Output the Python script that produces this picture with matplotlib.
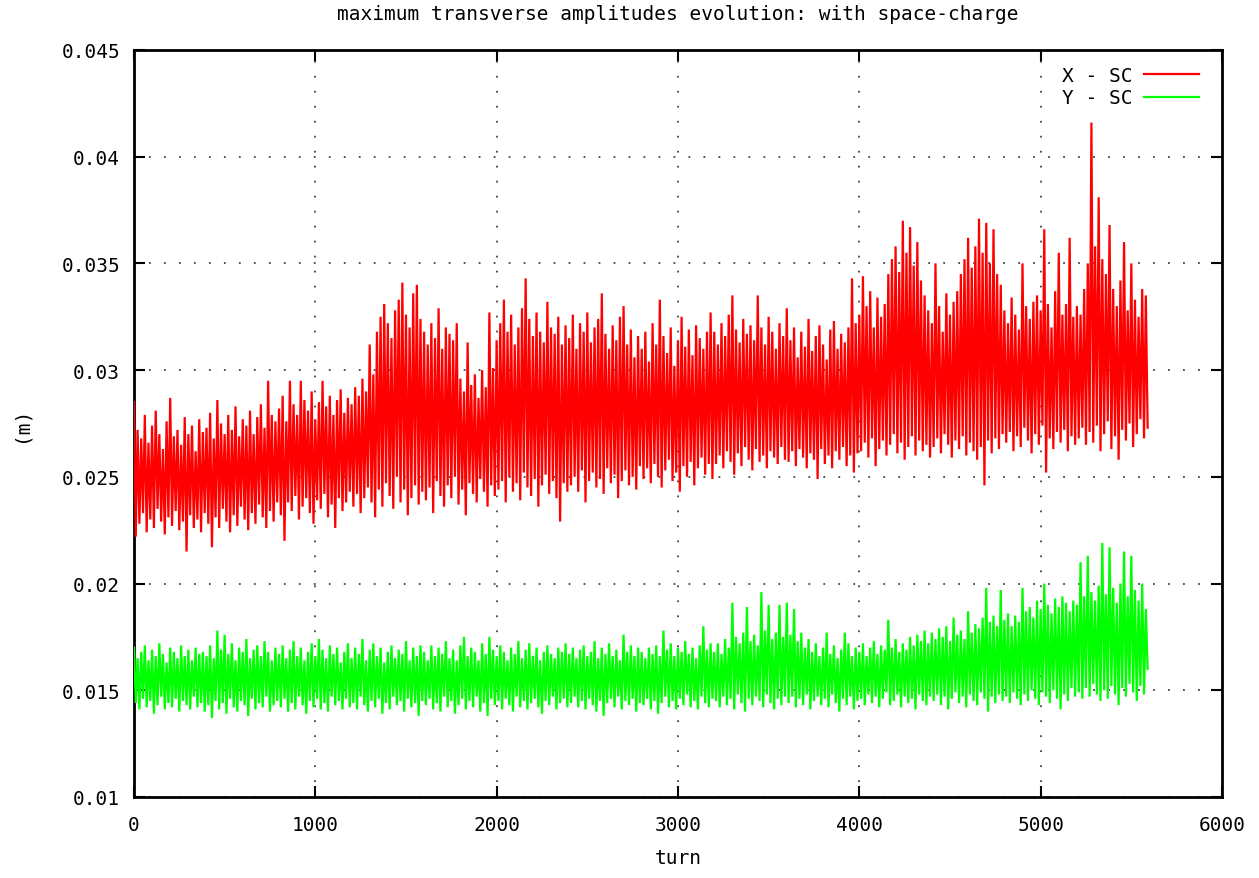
# coding=utf-8
'''
maximum transverse amplitudes per turn, X and Y, with space-charge
'''

import numpy as np
import matplotlib
matplotlib.use("Agg")
import matplotlib.pyplot as plt


# amplitudes in units of 0.1 mm
# x_hi / y_hi : peak value every 20 turns (turn 0, 20, 40 ...)
# x_lo / y_lo : dip value in between (turn 10, 30, 50 ...)
x_hi = [
    285, 272, 268, 279, 266, 274, 281, 270, 263, 276, 287, 269, 272, 265, 278, 270, 274, 262, 277, 271,
    273, 280, 268, 286, 275, 270, 279, 272, 283, 269, 277, 274, 281, 270, 278, 284, 273, 295, 279, 276,
    282, 288, 276, 295, 284, 279, 295, 286, 281, 290, 277, 285, 295, 283, 288, 279, 286, 291, 280, 287,
    284, 292, 288, 296, 290, 312, 298, 318, 325, 331, 322, 315, 328, 333, 341, 326, 320, 336, 340, 324,
    318, 312, 322, 315, 329, 310, 320, 317, 314, 322, 296, 290, 313, 293, 298, 287, 300, 292, 327, 301,
    314, 322, 333, 318, 326, 312, 320, 329, 343, 324, 316, 327, 318, 313, 332, 320, 317, 325, 312, 321,
    315, 326, 310, 322, 318, 327, 313, 320, 324, 336, 317, 310, 321, 314, 325, 330, 312, 319, 306, 316,
    310, 318, 304, 322, 312, 333, 316, 308, 320, 302, 314, 325, 311, 319, 307, 321, 315, 310, 318, 327,
    318, 312, 322, 316, 326, 335, 319, 313, 324, 317, 321, 314, 335, 320, 312, 325, 318, 310, 322, 316,
    329, 314, 320, 306, 318, 311, 324, 309, 316, 321, 312, 305, 319, 323, 310, 317, 313, 320, 343, 322,
    326, 344, 330, 337, 320, 334, 325, 331, 345, 352, 358, 346, 370, 355, 367, 349, 360, 342, 335, 328,
    322, 350, 330, 318, 336, 326, 332, 337, 345, 352, 362, 348, 358, 371, 355, 369, 350, 366, 345, 340,
    328, 322, 334, 326, 319, 350, 330, 324, 332, 335, 328, 366, 331, 320, 337, 355, 326, 331, 362, 325,
    330, 326, 338, 350, 416, 358, 381, 352, 345, 368, 338, 330, 342, 360, 328, 350, 333, 325, 338, 335,
]
x_lo = [
    222, 228, 233, 224, 230, 226, 235, 229, 223, 231, 227, 234, 225, 229, 215, 232, 226, 230, 224, 233,
    228, 217, 231, 226, 235, 229, 224, 232, 227, 236, 230, 225, 233, 228, 237, 231, 226, 234, 229, 238,
    232, 220, 238, 234, 241, 230, 236, 240, 233, 228, 239, 235, 242, 231, 237, 226, 240, 234, 238, 243,
    236, 242, 233, 240, 245, 238, 231, 244, 236, 247, 241, 235, 250, 238, 244, 232, 240, 246, 237, 243,
    239, 245, 233, 248, 241, 236, 246, 240, 250, 237, 244, 232, 247, 242, 238, 249, 243, 236, 246, 241,
    244, 248, 238, 250, 243, 247, 239, 252, 245, 241, 249, 236, 246, 251, 242, 248, 240, 229, 247, 243,
    246, 250, 243, 253, 238, 248, 252, 245, 249, 242, 254, 247, 251, 240, 248, 253, 246, 250, 244, 255,
    249, 254, 247, 256, 250, 245, 253, 258, 248, 252, 243, 255, 250, 257, 246, 254, 259, 251, 256, 249,
    256, 260, 254, 262, 257, 251, 261, 255, 264, 258, 253, 263, 257, 260, 254, 262, 259, 256, 264, 258,
    257, 262, 255, 263, 259, 254, 261, 258, 249, 263, 256, 260, 254, 262, 258, 264, 255, 260, 252, 261,
    262, 266, 259, 268, 255, 263, 267, 260, 265, 270, 261, 266, 258, 264, 269, 260, 267, 262, 265, 259,
    264, 268, 261, 270, 265, 259, 267, 263, 269, 260, 266, 262, 258, 264, 246, 267, 261, 268, 263, 270,
    266, 271, 262, 269, 264, 273, 267, 261, 270, 265, 274, 252, 268, 263, 271, 266, 272, 262, 269, 265,
    268, 273, 265, 271, 266, 274, 262, 270, 276, 263, 269, 258, 272, 267, 275, 264, 270, 277, 268, 273,
]
y_hi = [
    170, 165, 168, 171, 164, 169, 166, 172, 167, 163, 170, 168, 165, 171, 166, 169, 164, 170, 167, 168,
    166, 171, 165, 178, 169, 176, 167, 172, 164, 170, 168, 174, 165, 169, 171, 166, 173, 168, 164, 170,
    167, 171, 165, 169, 173, 166, 170, 164, 168, 172, 166, 174, 169, 165, 171, 167, 170, 163, 168, 172,
    165, 170, 167, 174, 164, 169, 172, 166, 170, 163, 168, 171, 165, 169, 167, 173, 164, 170, 166, 171,
    168, 164, 171, 166, 170, 167, 173, 165, 169, 164, 171, 175, 166, 170, 168, 164, 172, 167, 175, 169,
    166, 171, 168, 164, 170, 167, 173, 165, 169, 172, 166, 170, 164, 168, 171, 167, 165, 170, 168, 172,
    167, 170, 165, 169, 171, 166, 168, 173, 165, 170, 167, 172, 166, 169, 164, 176, 168, 171, 166, 170,
    168, 165, 170, 167, 171, 166, 178, 169, 172, 166, 170, 168, 173, 167, 170, 165, 171, 180, 169, 172,
    168, 172, 167, 174, 170, 191, 175, 172, 177, 189, 173, 176, 171, 196, 178, 190, 174, 177, 190, 175,
    191, 176, 188, 173, 177, 170, 174, 168, 172, 166, 170, 177, 167, 171, 165, 169, 177, 172, 166, 170,
    168, 172, 166, 170, 173, 167, 171, 169, 183, 170, 174, 168, 172, 169, 175, 171, 176, 173, 178, 172,
    177, 174, 179, 175, 180, 173, 184, 176, 178, 174, 187, 177, 181, 179, 184, 198, 182, 185, 180, 197,
    183, 186, 180, 185, 182, 198, 187, 189, 184, 192, 188, 200, 190, 186, 193, 189, 194, 191, 187, 192,
    190, 210, 194, 213, 196, 192, 199, 219, 195, 217, 198, 191, 200, 215, 194, 213, 197, 192, 200, 188,
]
y_lo = [
    144, 141, 146, 142, 145, 139, 143, 147, 141, 144, 142, 146, 140, 145, 143, 141, 147, 142, 144, 140,
    143, 137, 145, 141, 144, 139, 146, 142, 140, 145, 143, 138, 146, 141, 144, 142, 147, 140, 143, 145,
    142, 146, 140, 144, 141, 147, 143, 139, 145, 142, 146, 141, 144, 140, 147, 143, 145, 141, 146, 142,
    144, 141, 147, 143, 140, 145, 142, 146, 139, 144, 141, 147, 143, 145, 140, 146, 142, 144, 138, 145,
    143, 146, 141, 144, 140, 147, 142, 145, 139, 143, 146, 141, 145, 142, 147, 140, 144, 138, 146, 143,
    145, 141, 146, 143, 140, 147, 142, 145, 141, 144, 146, 142, 139, 145, 143, 147, 141, 144, 146, 142,
    144, 147, 142, 145, 141, 146, 143, 140, 145, 138, 144, 146, 142, 147, 141, 145, 143, 146, 140, 144,
    143, 146, 141, 145, 139, 144, 147, 142, 145, 141, 146, 143, 148, 142, 145, 141, 147, 144, 142, 146,
    145, 142, 147, 143, 146, 141, 148, 144, 140, 146, 143, 147, 145, 142, 148, 144, 141, 146, 143, 147,
    144, 147, 142, 146, 143, 148, 141, 145, 147, 143, 146, 142, 148, 144, 140, 146, 143, 147, 141, 145,
    146, 143, 148, 144, 147, 142, 146, 149, 143, 145, 148, 142, 147, 144, 146, 141, 148, 145, 143, 147,
    145, 148, 143, 147, 141, 146, 149, 144, 147, 142, 148, 145, 143, 149, 146, 140, 147, 144, 148, 145,
    147, 144, 149, 146, 143, 148, 145, 150, 146, 143, 149, 147, 144, 150, 146, 141, 148, 145, 151, 147,
    149, 146, 151, 147, 153, 148, 145, 150, 146, 152, 148, 143, 151, 147, 153, 149, 145, 152, 148, 160,
]

x_ticks = [0, 1000, 2000, 3000, 4000, 5000, 6000]
y_ticks = [0.01, 0.015, 0.02, 0.025, 0.03, 0.035, 0.04, 0.045]
y_ticklabels = ["0.01", "0.015", "0.02", "0.025", "0.03", "0.035", "0.04", "0.045"]


def merge(hi, lo):
    # put peaks and dips back in turn order
    t_hi = np.arange(len(hi)) * 20
    t_lo = np.arange(len(lo)) * 20 + 10
    t = np.concatenate([t_hi, t_lo])
    v = np.concatenate([hi, lo]) * 1e-4
    order = np.argsort(t, kind="stable")
    return t[order], v[order]


turn_x, amp_x = merge(x_hi, x_lo)
turn_y, amp_y = merge(y_hi, y_lo)

plt.rcParams['font.family'] = ['DejaVu Sans Mono']
fs = 14

fig = plt.figure(figsize=(12.59, 8.79), dpi=100)
ax = fig.add_axes([0.1064, 0.0922, 0.8642, 0.8498])

ax.plot(turn_x, amp_x, color='#ff0000', lw=1.6, label='X - SC', zorder=3,
        solid_joinstyle='miter')
ax.plot(turn_y, amp_y, color='#00ff00', lw=1.6, label='Y - SC', zorder=3,
        solid_joinstyle='miter')

ax.set_xlim(0, 6000)
ax.set_ylim(0.01, 0.045)
ax.set_xticks(x_ticks)
ax.set_xticklabels([str(t) for t in x_ticks])
ax.set_yticks(y_ticks)
ax.set_yticklabels(y_ticklabels)

# gnuplot-ish frame: mirrored inward ticks, dotted grid
ax.tick_params(direction='in', length=8, width=1.5, top=True, right=True,
               labelsize=fs, colors='black')
ax.tick_params(axis='x', pad=13)
ax.tick_params(axis='y', pad=10)
for s in ax.spines.values():
    s.set_linewidth(2)
ax.grid(True, color='#444444', linestyle=(0, (1, 7.3)), linewidth=1.3, zorder=1)
ax.set_axisbelow(True)

ax.set_title('maximum transverse amplitudes evolution: with space-charge',
             fontsize=fs, pad=22)
ax.set_xlabel('turn', fontsize=fs, labelpad=10)
ax.set_ylabel('(m)', fontsize=fs, labelpad=22)

leg = ax.legend(loc='upper right', frameon=False, markerfirst=False, fontsize=fs,
                handlelength=2.8, handletextpad=0.6, labelspacing=0.2,
                borderaxespad=0.4, bbox_to_anchor=(0.993, 1.0))
for h in leg.get_lines():
    h.set_linewidth(1.6)

fig.savefig('out.png', dpi=100)
